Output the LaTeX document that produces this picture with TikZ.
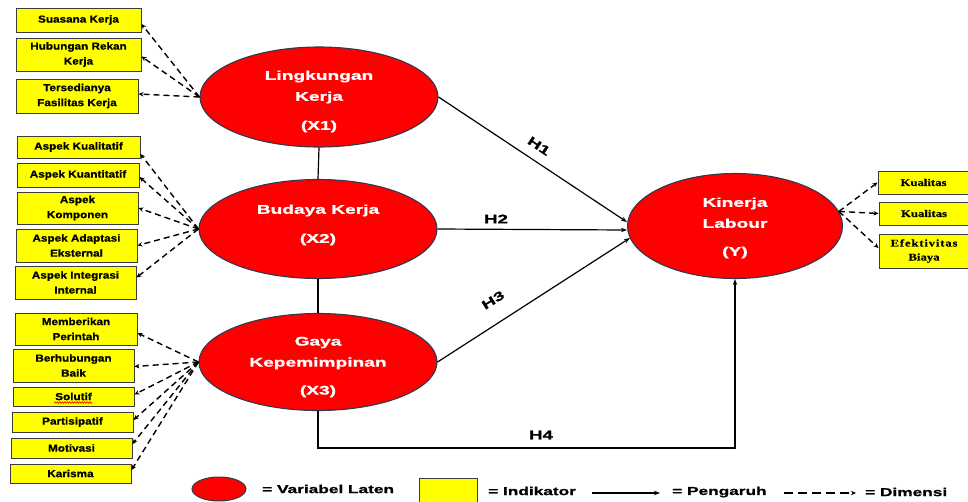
\documentclass[tikz,border=0pt]{standalone}
\usepackage{fontspec}
\setmainfont{Liberation Sans}
\newfontfamily\elfont[FakeStretch=1.52,FakeBold=1.2]{Liberation Sans}
\newfontfamily\hfont[FakeStretch=1.5,FakeBold=1]{Liberation Sans}
\newfontfamily\bxfont[FakeStretch=1.15,FakeBold=0.8]{Liberation Sans}
\newfontfamily\srfont[FakeStretch=1.25,FakeBold=0.5]{Liberation Serif}
\newfontfamily\srwide[FakeStretch=1.25,FakeBold=0.5,LetterSpace=8]{Liberation Serif}
\usetikzlibrary{shapes.geometric,arrows.meta,decorations.pathmorphing}
\definecolor{ellred}{HTML}{FF0000}
\definecolor{ellbd}{HTML}{2E3A50}
\definecolor{boxyel}{HTML}{FFFF00}
\definecolor{boxbd}{HTML}{3C3C3C}
\begin{document}
\begin{tikzpicture}[x=1pt,y=-1pt,
 latent/.style={ellipse, draw=ellbd, line width=1.1pt, fill=ellred, minimum width=238pt, minimum height=100pt, inner sep=0pt},
 ltext/.style={align=center, text=white, inner sep=0pt, font=\elfont\bfseries\fontsize{12.6}{21}\selectfont},
 ind/.style={rectangle, draw=boxbd, line width=1pt, fill=boxyel, inner sep=0pt, align=center, font=\bxfont\bfseries\fontsize{10.2}{15}\selectfont},
 indr/.style={ind, font=\srfont\bfseries\fontsize{10.2}{14}\selectfont},
 dasharr/.style={-{Stealth[length=5pt,width=4.5pt]}, line width=1.4pt, dash pattern=on 6pt off 4pt},
 solarr/.style={-{Stealth[length=6pt,width=4.5pt]}, line width=1.2pt},
 hlab/.style={font=\hfont\bfseries\fontsize{12.5}{14}\selectfont, inner sep=0pt},
 legtext/.style={font=\hfont\bfseries\fontsize{11.5}{13}\selectfont, anchor=west, inner sep=0pt}
]
\useasboundingbox (0,0) rectangle (968,501);
% latent variables
\node[latent] (X1) at (319,97) {};
\node[ltext] (X1t) at (319,101.5) {Lingkungan\\Kerja\\[8pt](X1)};
\node[latent, minimum height=99pt] (X2) at (318,229) {};
\node[ltext] (X2t) at (318,225) {Budaya Kerja\\[8pt](X2)};
\node[latent, minimum height=97pt] (X3) at (318,362) {};
\node[ltext] (X3t) at (318,367) {Gaya\\Kepemimpinan\\[7pt](X3)};
\node[latent, minimum width=215pt, minimum height=105pt] (Y) at (735,226) {};
\node[ltext] (Yt) at (735,228) {Kinerja\\Labour\\[7pt](Y)};
% indicators X1
\node[ind, minimum width=125pt, minimum height=24pt] (b1) at (78.5,20) {Suasana Kerja};
\node[ind, minimum width=125pt, minimum height=33pt] (b2) at (78.5,54.5) {Hubungan Rekan\\Kerja};
\node[ind, minimum width=122pt, minimum height=34pt] (b3) at (77,96) {Tersedianya\\Fasilitas Kerja};
% indicators X2
\node[ind, minimum width=123pt, minimum height=22pt] (c1) at (78.5,147) {Aspek Kualitatif};
\node[ind, minimum width=122pt, minimum height=24pt] (c2) at (78,175) {Aspek Kuantitatif};
\node[ind, minimum width=121pt, minimum height=32pt] (c3) at (77.5,208) {Aspek\\Komponen};
\node[ind, minimum width=121pt, minimum height=33pt] (c4) at (76.5,245.5) {Aspek Adaptasi\\Eksternal};
\node[ind, minimum width=121pt, minimum height=33pt] (c5) at (75.5,282.5) {Aspek Integrasi\\Internal};
% indicators X3
\node[ind, minimum width=122pt, minimum height=32pt] (d1) at (76,329) {Memberikan\\Perintah};
\node[ind, minimum width=121pt, minimum height=33pt] (d2) at (73.5,365.5) {Berhubungan\\Baik};
\node[ind, minimum width=121pt, minimum height=19pt] (d3) at (73.5,396.5) {Solutif};
\node[ind, minimum width=121pt, minimum height=20pt] (d4) at (72.5,422) {Partisipatif};
\node[ind, minimum width=121pt, minimum height=20pt] (d5) at (71.5,448) {Motivasi};
\node[ind, minimum width=121pt, minimum height=19pt] (d6) at (70.5,473.5) {Karisma};
\draw[red, line width=0.6pt, decorate, decoration={snake, segment length=2.5pt, amplitude=0.8pt}] (54,402.5) -- (92,402.5);
% indicators Y
\node[indr, minimum width=91pt, minimum height=23pt] (r1) at (923.5,182.5) {Kualitas};
\node[indr, minimum width=90pt, minimum height=23pt] (r2) at (924,213.5) {Kualitas};
\node[indr, minimum width=90pt, minimum height=34pt] (r3) at (924,251) {\srwide\bfseries Efektivitas\\Biaya};
% correlations
\draw[line width=1.2pt] (X1.south) -- (X2.north);
\draw[line width=1.2pt] (X2.south) -- (X3.north);
% hypotheses
\draw[solarr] (X1.east) -- ([yshift=4pt]Y.west);
\draw[solarr] (X2.east) -- ([yshift=-4pt]Y.west);
\draw[solarr] (X3.east) -- ([yshift=-12pt,xshift=3pt]Y.west);
\coordinate (h4y) at (0,448);
\draw[solarr] (X3.south) -- (X3.south |- h4y) -| (Y.south);
\node[hlab, rotate=-33.5] (H1) at (539,146) {H1};
\node[hlab] (H2) at (496,219) {H2};
\node[hlab, rotate=32] (H3) at (493,300) {H3};
\node[hlab] (H4) at (541,435) {H4};
% dimension arrows
\draw[dasharr] (X1.west) -- ([yshift=-4pt]b1.east);
\draw[dasharr] (X1.west) -- ([yshift=-2pt]b2.east);
\draw[dasharr] (X1.west) -- ([yshift=2pt]b3.east);
\draw[dasharr] (X2.west) -- ([yshift=-7pt]c1.east);
\draw[dasharr] (X2.west) -- ([yshift=-2pt]c2.east);
\draw[dasharr] (X2.west) -- (c3.east);
\draw[dasharr] (X2.west) -- (c4.east);
\draw[dasharr] (X2.west) -- ([yshift=5pt]c5.east);
\draw[dasharr] (X3.west) -- ([yshift=-4pt]d1.east);
\draw[dasharr] (X3.west) -- ([yshift=-1pt]d2.east);
\draw[dasharr] (X3.west) -- ([yshift=2pt]d3.east);
\draw[dasharr] (X3.west) -- ([yshift=2pt]d4.east);
\draw[dasharr] (X3.west) -- ([yshift=4pt]d5.east);
\draw[dasharr] (X3.west) -- ([yshift=3.5pt]d6.east);
\draw[dasharr] (Y.8) -- (r1.west);
\draw[dasharr] (Y.8) -- (r2.west);
\draw[dasharr] (Y.8) -- ([yshift=3pt]r3.west);
% legend
\node[latent, minimum width=54pt, minimum height=24pt, line width=1pt] (legE) at (219,489) {};
\node[legtext] (legEt) at (262,489) {= Variabel Laten};
\node[ind, minimum width=58pt, minimum height=24pt] (legB) at (448,490) {};
\node[legtext] (legBt) at (488,491) {= Indikator};
\coordinate (la1) at (592,493);
\coordinate (la2) at (660,493);
\draw[solarr] (la1) -- (la2);
\node[legtext] (legPt) at (672,492) {= Pengaruh};
\coordinate (lb1) at (784,493);
\coordinate (lb2) at (856,493);
\draw[dasharr, dash pattern=on 9pt off 5pt] (lb1) -- (lb2);
\node[legtext] (legDt) at (865,492) {= Dimensi};
\end{tikzpicture}
\end{document}
